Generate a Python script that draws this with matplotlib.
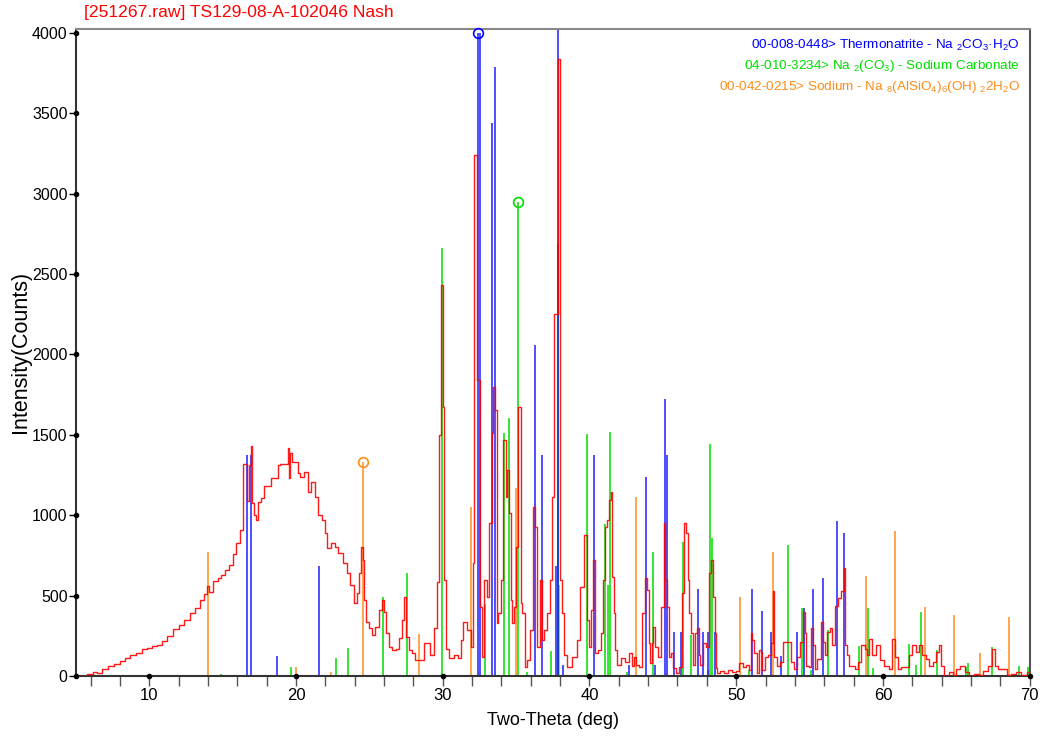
import numpy as np
import matplotlib
matplotlib.use("Agg")
import matplotlib.pyplot as plt

plt.rcParams['font.family'] = ['Liberation Sans Narrow', 'Liberation Sans', 'DejaVu Sans']
plt.rcParams['mathtext.fontset'] = 'custom'
plt.rcParams['mathtext.rm'] = 'Liberation Sans'
plt.rcParams['mathtext.it'] = 'Liberation Sans'

# measured pattern (two-theta, counts)
two_theta = [5.0, 5.5, 6.0, 6.3, 6.6, 7.0, 7.4, 7.8, 8.2, 8.5, 8.9, 9.3, 9.7, 10.0, 10.4, 10.7,
             11.0, 11.4, 11.8, 12.2, 12.6, 13.0, 13.3, 13.6, 13.9, 14.0, 14.2, 14.5, 14.8, 15.0,
             15.3, 15.6, 15.8, 16.06, 16.3, 16.45, 16.6, 16.75, 16.85, 16.95, 17.05, 17.2, 17.35,
             17.5, 17.7, 17.9, 18.2, 18.4, 18.7, 18.85, 19.0, 19.4, 19.5, 19.56, 19.65, 19.8,
             20.05, 20.2, 20.4, 20.75, 20.9, 21.2, 21.4, 21.65, 21.87, 22.05, 22.2, 22.56, 22.78,
             23.0, 23.35, 23.58, 23.81, 24.04, 24.27, 24.38, 24.49, 24.6, 24.65, 24.84, 25.06,
             25.29, 25.52, 25.75, 25.93, 26.09, 26.2, 26.43, 26.7, 26.9, 27.1, 27.3, 27.45, 27.6,
             27.8, 28.0, 28.25, 28.5, 28.9, 29.3, 29.55, 29.7, 29.85, 29.96, 30.05, 30.15, 30.3,
             30.6, 30.9, 31.2, 31.3, 31.5, 31.8, 32.0, 32.08, 32.24, 32.46, 32.6, 32.7, 32.95,
             33.07, 33.26, 33.4, 33.49, 33.65, 33.72, 33.85, 34.06, 34.22, 34.35, 34.47, 34.63,
             34.67, 34.8, 34.9, 35.04, 35.2, 35.31, 35.36, 35.5, 35.65, 35.8, 36.1, 36.22, 36.35,
             36.56, 36.68, 36.8, 37.0, 37.25, 37.36, 37.48, 37.7, 37.95, 38.05, 38.15, 38.4, 38.6,
             39.0, 39.25, 39.5, 39.7, 39.9, 40.06, 40.2, 40.33, 40.45,
             40.7, 40.9, 41.0, 41.13, 41.24, 41.36, 41.52, 41.6, 41.7, 41.8, 42.0, 42.27, 42.55,
             42.84, 42.95, 43.1, 43.3, 43.5, 43.7, 43.86, 43.98, 44.09, 44.2, 44.3, 44.43, 44.55,
             44.8, 45.0, 45.12, 45.23, 45.34, 45.46, 45.6, 45.8, 46.0, 46.25, 46.37, 46.48, 46.66,
             46.76, 46.85, 46.94, 47.17, 47.28, 47.39, 47.5, 47.62, 47.8, 48.08, 48.19, 48.35,
             48.49, 48.58, 48.65, 48.76, 49.0, 49.3, 49.6, 49.9, 50.1, 50.35, 50.6, 50.8, 50.95,
             51.04, 51.15, 51.3, 51.5, 51.6, 51.75, 51.84, 52.07, 52.3, 52.45, 52.53, 52.64, 52.87,
             53.1, 53.22, 53.68, 53.8, 54.03, 54.26, 54.49, 54.6, 54.72, 54.84, 55.07, 55.18, 55.3,
             55.42, 55.65, 55.88, 56.0, 56.1, 56.34, 56.45, 56.62, 56.8, 57.03, 57.26, 57.38, 57.49,
             57.61, 57.72, 57.95, 58.19, 58.42, 58.65, 58.88, 59.0, 59.11, 59.34, 59.69, 59.92,
             60.27, 60.5, 60.73, 60.9, 61.1, 61.42, 61.65, 61.88, 62.11, 62.34, 62.57, 62.81, 63.04,
             63.27, 63.5, 63.73, 63.9, 64.08, 64.3, 64.65, 64.88, 65.1, 65.46, 65.69, 66.04, 66.4,
             66.73, 66.96, 67.31, 67.54, 67.7, 68.0, 68.35, 68.58, 68.93, 69.27, 69.62, 69.96, 70.2]
counts = [0, 0, 10, 25, 20, 45, 60, 75, 95, 110, 130, 145, 165, 175, 185, 195,
          215, 250, 290, 320, 350, 390, 420, 470, 510, 560, 520, 590, 610, 630,
          660, 690, 760, 825, 910, 1320, 1320, 1090, 1310, 1430, 1075, 1000, 970,
          1080, 1110, 1180, 1180, 1230, 1230, 1310, 1320, 1320, 1416, 1230, 1385, 1333,
          1333, 1260, 1240, 1270, 1146, 1208, 1115, 1000, 970, 887, 794, 825, 804,
          763, 700, 638, 566, 452, 514, 638, 804, 721, 473, 338, 297,
          255, 307, 410, 473, 400, 265, 182, 162, 165, 234, 348, 493, 245,
          162, 141, 100, 100, 203, 130, 296, 586, 1500, 2430, 1670, 600, 170,
          110, 130, 110, 224, 338, 286, 183, 701, 3240, 1841, 431, 120, 597,
          494, 950, 1510, 1800, 1655, 328, 390, 597, 1468, 1116, 1281, 1012,
          473, 328, 431, 805, 1675, 1675, 452, 390, 58, 100, 286, 1053, 929,
          183, 597, 224, 286, 390, 597, 1116, 2250, 3835, 597, 390, 131, 58,
          120, 224, 556, 877, 348, 183, 411, 722, 141,
          162, 265, 597, 929, 970, 1095, 1146, 618, 390, 162, 70, 110, 90,
          141, 60, 120, 69, 58, 390, 608, 535, 203, 79, 203, 307, 183,
          120, 431, 950, 597, 431, 120, 141, 48, 17, 58, 514, 950, 887,
          597, 390, 265, 69, 265, 297, 131, 69, 203, 180, 639, 722,
          494, 265, 48, 17, 30, 20, 35, 25, 30, 80, 58, 69, 37,
          265, 224, 141, 17, 162, 150, 37, 120, 128, 203, 527, 118, 65,
          86, 212, 212, 86, 44, 118, 212, 401, 265, 65, 55, 296, 191,
          44, 107, 338, 212, 128, 275, 296, 191, 433, 485, 527, 674, 191,
          128, 65, 65, 44, 86, 191, 170, 128, 233, 128, 191, 97,
          65, 44, 233, 118, 44, 55, 55, 128, 191, 149, 191, 128, 107,
          65, 86, 149, 191, 65, 2, 23, 5, 44, 65, 23, 2, 10,
          5, 34, 65, 170, 65, 44, 44, 5, 12, 23, 5, 23, 0]

# reference lines, 00-008-0448 Thermonatrite
thermo_pos = [16.63, 16.93, 18.68, 21.6, 32.38, 32.52, 33.38, 33.54, 36.27, 36.75, 37.7, 37.86,
              38.2, 40.28, 42.72, 43.86, 44.47, 45.13, 45.3, 45.77, 46.27, 47.39, 47.73, 48.05,
              48.53, 51.1, 51.74, 52.38, 53.04, 54.16, 54.64, 55.27, 55.93, 56.89, 57.37]
thermo_int = [1375, 1375, 126, 684, 4000, 4000, 3440, 3790, 2060, 1374, 686, 4030,
              68, 1375, 68, 1240, 68, 1723, 1372, 272, 272, 539, 272, 272,
              272, 539, 406, 272, 126, 272, 420, 539, 607, 962, 887]

# 04-010-3234 Sodium Carbonate
carb_pos = [14.87, 19.66, 22.72, 23.54, 25.95, 27.54, 29.96, 32.87, 34.17, 34.51, 35.16, 35.77,
            37.41, 37.86, 39.8, 41.08, 41.28, 41.42, 42.54, 44.32, 46.41, 46.89, 48.21, 48.37,
            50.9, 53.54, 54.47, 55.13, 56.25, 58.35, 59.01, 59.33, 61.77, 62.25, 62.58, 63.7,
            65.66, 65.8, 67.47, 69.25, 69.9]
carb_int = [15, 54, 112, 172, 493, 638, 2660, 448, 1509, 1606, 2950, 27,
            155, 2690, 1505, 943, 566, 1519, 25, 769, 831, 255, 1443, 856,
            40, 815, 420, 37, 286, 188, 421, 50, 201, 68, 395, 160,
            56, 82, 180, 65, 55]

# 00-042-0215 Sodium
sod_pos = [14.01, 20.0, 22.4, 24.54, 28.39, 31.9, 35.02, 37.9, 43.18, 48.08, 50.28, 52.54,
           58.83, 60.81, 62.88, 64.84, 66.63, 68.6]
sod_int = [770, 54, 23, 1333, 259, 1049, 1167, 566, 1111, 40, 493, 769,
           624, 902, 427, 380, 145, 366]

blue = '#0000ff'
green = '#00dd00'
orange = '#ff8c1a'
red = '#ff0000'

fig = plt.figure(figsize=(10.4, 7.37), dpi=100)
ax = fig.add_axes([0.073, 0.0828, 0.917, 0.878])

ax.vlines(sod_pos, 0, sod_int, color=orange, lw=1.3, alpha=0.85, zorder=2)
ax.vlines(carb_pos, 0, carb_int, color=green, lw=1.3, alpha=0.85, zorder=2)
ax.vlines(thermo_pos, 0, thermo_int, color=blue, lw=1.3, alpha=0.75, zorder=2)
ax.plot(two_theta, counts, color=red, lw=1.0, drawstyle='steps-mid', alpha=0.9, zorder=3)

# strongest line of each phase marked with an open circle
ax.plot(thermo_pos[4], thermo_int[4], 'o', ms=7, mfc='none', mec=blue, mew=1.2, clip_on=False, zorder=4)
ax.plot(carb_pos[10], carb_int[10], 'o', ms=7, mfc='none', mec=green, mew=1.2, zorder=4)
ax.plot(sod_pos[3], sod_int[3], 'o', ms=7, mfc='none', mec=orange, mew=1.2, zorder=4)

ax.set_xlim(5, 70)
ax.set_ylim(0, 4025)
ax.set_xticks(range(10, 71, 10))
ax.set_xticks([v for v in range(6, 71, 2) if v % 10], minor=True)
ax.set_yticks(range(0, 4001, 500))
ax.tick_params(axis='x', which='both', direction='out', length=7, width=1, color='#555555',
               labelsize=12, pad=2)
ax.tick_params(axis='y', direction='out', length=5, width=1, labelsize=11.5, pad=1)
ax.plot([5] * 9, range(0, 4001, 500), 'o', ms=3, color='k', clip_on=False, zorder=5)
ax.plot(range(10, 71, 10), [0] * 7, 'o', ms=3, color='k', clip_on=False, zorder=5)

ax.spines['top'].set_color('#888888')
ax.spines['right'].set_color('#555555')
ax.spines['left'].set_color('#333333')
ax.spines['bottom'].set_color('#333333')
for s in ax.spines.values():
    s.set_linewidth(1.5)

ax.set_xlabel('Two-Theta (deg)', fontsize=13, labelpad=6)
ax.set_ylabel('Intensity(Counts)', fontsize=15.5, labelpad=1)

fig.text(0.081, 0.983, '[251267.raw] TS129-08-A-102046 Nash', color=red, fontsize=12.6,
         va='center', ha='left')

ax.text(0.99, 0.974, '00-008-0448> Thermonatrite - Na $_2$CO$_3$·H$_2$O', color=blue,
        transform=ax.transAxes, ha='right', va='center', fontsize=9.7)
ax.text(0.99, 0.943, '04-010-3234> Na $_2$(CO$_3$) - Sodium Carbonate', color=green,
        transform=ax.transAxes, ha='right', va='center', fontsize=9.7)
ax.text(0.99, 0.910, '00-042-0215> Sodium - Na $_8$(AlSiO$_4$)$_6$(OH) $_2$2H$_2$O', color=orange,
        transform=ax.transAxes, ha='right', va='center', fontsize=9.7)

fig.savefig('out.png', dpi=100)
